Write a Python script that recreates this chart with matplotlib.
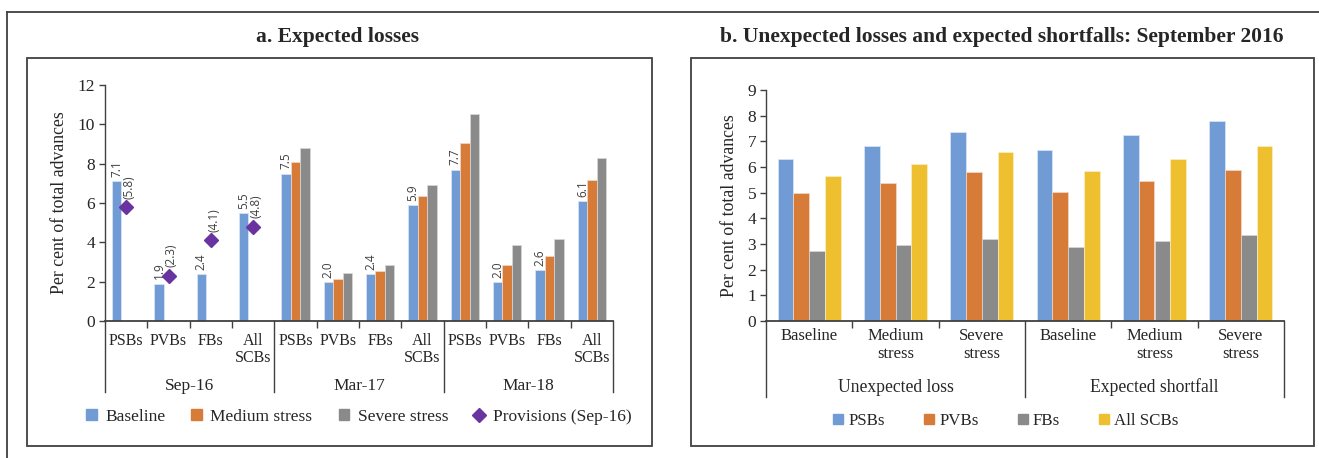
import matplotlib
matplotlib.use('Agg')
import matplotlib.pyplot as plt
from matplotlib.patches import Rectangle, Patch
from matplotlib.lines import Line2D
import numpy as np

# ---------------- data ----------------
# Panel a: expected losses
periods = ['Sep-16', 'Mar-17', 'Mar-18']
bank_groups_a = ['PSBs', 'PVBs', 'FBs', 'All\nSCBs']
baseline = [7.1, 1.9, 2.4, 5.5, 7.5, 2.0, 2.4, 5.9, 7.7, 2.0, 2.6, 6.1]
medium = [None, None, None, None, 8.1, 2.15, 2.55, 6.35, 9.05, 2.85, 3.3, 7.15]
severe = [None, None, None, None, 8.8, 2.45, 2.85, 6.9, 10.55, 3.85, 4.15, 8.3]
provisions = [5.8, 2.3, 4.1, 4.8]
series_a = ['Baseline', 'Medium stress', 'Severe stress', 'Provisions (Sep-16)']

# Panel b: unexpected losses and expected shortfalls, Sep 2016
scenarios = ['Baseline', 'Medium\nstress', 'Severe\nstress']
measures = ['Unexpected loss', 'Expected shortfall']
psbs = [6.31, 6.83, 7.36, 6.68, 7.23, 7.79]
pvbs = [4.97, 5.39, 5.81, 5.03, 5.47, 5.88]
fbs = [2.73, 2.95, 3.18, 2.87, 3.10, 3.35]
all_scbs = [5.64, 6.10, 6.58, 5.84, 6.31, 6.81]
series_b = ['PSBs', 'PVBs', 'FBs', 'All SCBs']

title_a = 'a. Expected losses'
title_b = 'b. Unexpected losses and expected shortfalls: September 2016'
ylabel = 'Per cent of total advances'

# ---------------- style ----------------
plt.rcParams['font.family'] = ['Liberation Serif', 'DejaVu Serif']
BLUE = '#709BD4'
ORANGE = '#D67B38'
GREY = '#8A8A8A'
YELLOW = '#EEBF2F'
PURPLE = '#6A34A0'
DARK = '#404040'
TXT = '#262626'

W, H = 1319, 458
fig = plt.figure(figsize=(W / 100, H / 100), dpi=100)


def fx(px):
    return px / W


def fy(py):
    return 1 - py / H


# outer frame lines
fig.add_artist(Line2D([fx(7), fx(1319)], [fy(12), fy(12)], color=DARK, lw=1.3, transform=fig.transFigure))
fig.add_artist(Line2D([fx(7), fx(7)], [fy(12), fy(458)], color=DARK, lw=1.3, transform=fig.transFigure))
# panel boxes
for x0, x1 in [(27, 652), (691, 1314)]:
    fig.add_artist(Rectangle((fx(x0), fy(446)), fx(x1 - x0), (446 - 58) / H, fill=False,
                             ec=DARK, lw=1.3, transform=fig.transFigure))

fig.text(fx(338), fy(37), title_a, ha='center', va='center', fontsize=15.5, fontweight='bold', color=TXT)
fig.text(fx(1002), fy(37), title_b, ha='center', va='center', fontsize=15.5, fontweight='bold', color=TXT)


def style_axes(ax):
    for s in ['top', 'right']:
        ax.spines[s].set_visible(False)
    ax.spines['left'].set_color(DARK)
    ax.spines['bottom'].set_color(DARK)
    ax.spines['left'].set_linewidth(1.0)
    ax.spines['bottom'].set_linewidth(1.3)
    ax.tick_params(axis='y', direction='out', length=4, width=1, color=DARK, labelsize=12.5,
                   labelcolor=TXT, pad=3)
    ax.tick_params(axis='x', direction='out', length=5, width=1, color=DARK, labelbottom=False)
    ax.set_facecolor('none')


# ---------------- panel a ----------------
ax1_top, ax1_bot = 85, 321
ax1 = fig.add_axes([fx(105), fy(ax1_bot), fx(613 - 105), (ax1_bot - ax1_top) / H])
style_axes(ax1)
n_a = len(baseline)
x = np.arange(n_a)
bw = 0.222
ax1.bar(x - bw, baseline, bw, color=BLUE, edgecolor='#DCE6F2', linewidth=0.5, zorder=2)
idx_m = [i for i, v in enumerate(medium) if v is not None]
ax1.bar(np.array(idx_m), [medium[i] for i in idx_m], bw, color=ORANGE, edgecolor='#F3D9C6',
        linewidth=0.5, zorder=2)
idx_s = [i for i, v in enumerate(severe) if v is not None]
ax1.bar(np.array(idx_s) + bw, [severe[i] for i in idx_s], bw, color=GREY, edgecolor='#D9D9D9',
        linewidth=0.5, zorder=2)
xp = np.arange(len(provisions))
ax1.plot(xp, provisions, ls='none', marker='D', ms=7, color=PURPLE, zorder=3)

for i, v in enumerate(baseline):
    ax1.annotate(f'{v:.1f}', (x[i] - bw, v), xytext=(0, 3), textcoords='offset points',
                 rotation=90, ha='center', va='bottom', fontsize=8.5, family='Open Sans', color=DARK)
for i, v in enumerate(provisions):
    ax1.annotate(f'({v:.1f})', (xp[i], v), xytext=(2, 6), textcoords='offset points',
                 rotation=90, ha='center', va='bottom', fontsize=8.5, family='Open Sans', color=DARK)

ax1.set_xlim(-0.5, n_a - 0.5)
ax1.set_ylim(0, 12)
ax1.set_yticks(range(0, 13, 2))
ax1.set_xticks([b + 0.5 for b in range(n_a - 1) if (b + 1) % 4 != 0])
ax1.set_ylabel(ylabel, fontsize=12.8, color=TXT, labelpad=7)

h1 = ax1_bot - ax1_top
tr1 = ax1.get_xaxis_transform()


def ay1(py):
    return (ax1_bot - py) / h1


for i in range(n_a):
    ax1.text(x[i], ay1(333), bank_groups_a[i % 4], transform=tr1, ha='center', va='top',
             fontsize=11.5, color=TXT, linespacing=1.1, clip_on=False)
for g, p in enumerate(periods):
    ax1.text(g * 4 + 1.5, ay1(386), p, transform=tr1, ha='center', va='center', fontsize=12.5,
             color=TXT, clip_on=False)
for b in [-0.5, 3.5, 7.5, 11.5]:
    ax1.plot([b, b], [0, ay1(392)], transform=tr1, color=DARK, lw=1.0, clip_on=False)

handles_a = [Patch(color=BLUE), Patch(color=ORANGE), Patch(color=GREY),
             Line2D([], [], ls='none', marker='D', ms=7, color=PURPLE)]
fig.legend(handles_a, series_a, loc='center', bbox_to_anchor=(fx(359), fy(417)), ncol=4,
           frameon=False, fontsize=12.5, handlelength=0.6, handleheight=0.6, handletextpad=0.5,
           columnspacing=1.5, labelcolor=TXT)

# ---------------- panel b ----------------
ax2_top, ax2_bot = 90, 321
ax2 = fig.add_axes([fx(766), fy(ax2_bot), fx(1284 - 766), (ax2_bot - ax2_top) / H])
style_axes(ax2)
n_b = len(psbs)
xb = np.arange(n_b)
bw2 = 0.182
for k, (vals, col, ec) in enumerate([(psbs, BLUE, '#DCE6F2'), (pvbs, ORANGE, '#F3D9C6'),
                                     (fbs, GREY, '#D9D9D9'), (all_scbs, YELLOW, '#FBEFC8')]):
    ax2.bar(xb + (k - 1.5) * bw2, vals, bw2, color=col, edgecolor=ec, linewidth=0.5, zorder=2)
ax2.set_xlim(-0.5, n_b - 0.5)
ax2.set_ylim(0, 9)
ax2.set_yticks(range(0, 10))
ax2.set_xticks([0.5, 1.5, 3.5, 4.5])
ax2.set_ylabel(ylabel, fontsize=12.8, color=TXT, labelpad=7)

h2 = ax2_bot - ax2_top
tr2 = ax2.get_xaxis_transform()


def ay2(py):
    return (ax2_bot - py) / h2


for i in range(n_b):
    ax2.text(xb[i], ay2(328), scenarios[i % 3], transform=tr2, ha='center', va='top',
             fontsize=12, color=TXT, linespacing=1.2, clip_on=False)
for g, m in enumerate(measures):
    ax2.text(g * 3 + 1, ay2(387), m, transform=tr2, ha='center', va='center', fontsize=12.7,
             color=TXT, clip_on=False)
for b in [-0.5, 2.5, 5.5]:
    ax2.plot([b, b], [0, ay2(397)], transform=tr2, color=DARK, lw=1.0, clip_on=False)

handles_b = [Patch(color=BLUE), Patch(color=ORANGE), Patch(color=GREY), Patch(color=YELLOW)]
fig.legend(handles_b, series_b, loc='center', bbox_to_anchor=(fx(1006), fy(421)), ncol=4,
           frameon=False, fontsize=12.2, handlelength=0.6, handleheight=0.6, handletextpad=0.3,
           columnspacing=2.3, labelcolor=TXT)

fig.savefig('out.png', dpi=100)
